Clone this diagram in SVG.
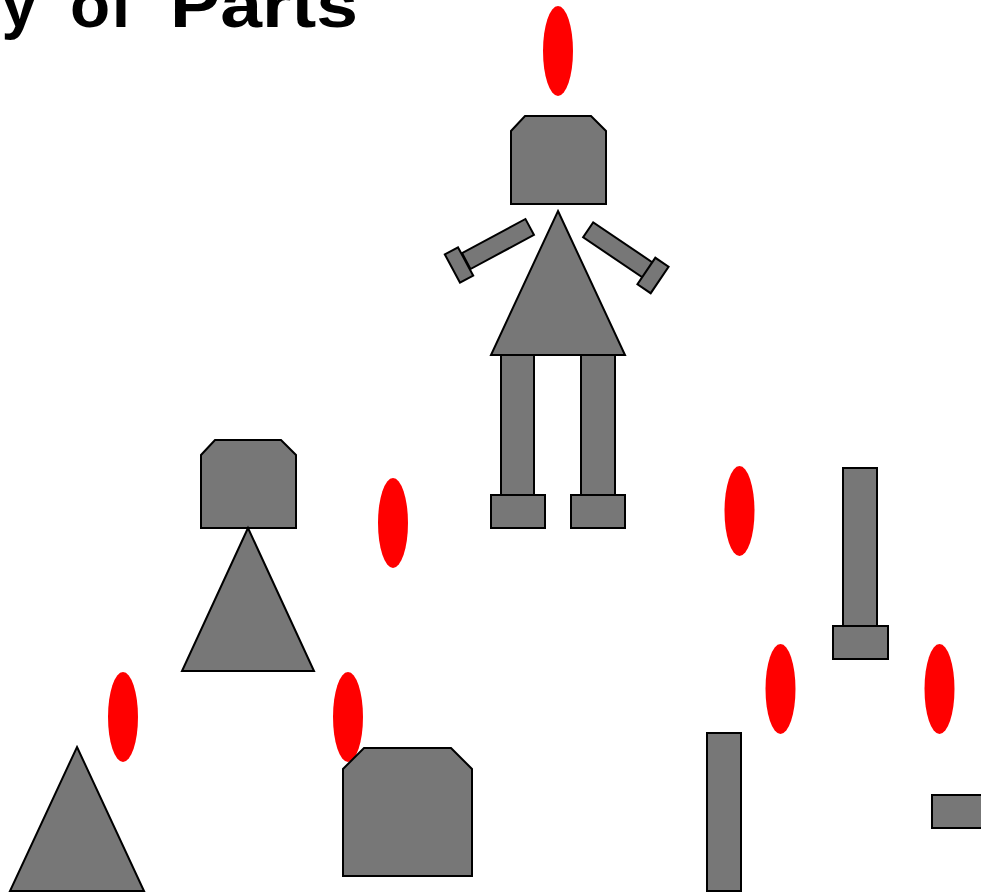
<svg xmlns="http://www.w3.org/2000/svg" width="981" height="893" viewBox="0 0 981 893">
  <style>
    .part { fill: #777777; stroke: #000000; stroke-width: 2; stroke-linejoin: miter; }
    .marker { fill: #ff0000; stroke: none; }
    .title { font-family: "Liberation Sans", Arial, sans-serif; font-weight: bold; font-size: 64px; fill: #000000; }
  </style>

  <!-- heading, partly outside the top-left edge -->
  <text class="title" y="27"><tspan x="37" text-anchor="end">Assembly</tspan><tspan x="70" textLength="62" lengthAdjust="spacingAndGlyphs">of</tspan><tspan x="170" textLength="188" lengthAdjust="spacingAndGlyphs">Parts</tspan></text>

  <!-- red drop-point markers -->
  <g id="markers">
    <ellipse class="marker" cx="558" cy="51" rx="15" ry="45"/>
    <ellipse class="marker" cx="393" cy="523" rx="15" ry="45"/>
    <ellipse class="marker" cx="739.5" cy="511" rx="15" ry="45"/>
    <ellipse class="marker" cx="780.5" cy="689" rx="15" ry="45"/>
    <ellipse class="marker" cx="939.5" cy="689" rx="15" ry="45"/>
    <ellipse class="marker" cx="123" cy="717" rx="15" ry="45"/>
    <ellipse class="marker" cx="348" cy="717" rx="15" ry="45"/>
  </g>

  <!-- fully assembled figure -->
  <g id="robot-full">
    <polygon class="part" points="525,116 591,116 606,131 606,204 511,204 511,131"/>
    <polygon class="part" points="558,211 625,355 491,355"/>
    <g transform="translate(498,244) rotate(-28.3)">
      <rect class="part" x="-36" y="-9" width="72" height="18"/>
    </g>
    <g transform="translate(459,265) rotate(-28.3)">
      <rect class="part" x="-7.5" y="-16" width="15" height="32"/>
    </g>
    <g transform="translate(618,250) rotate(34)">
      <rect class="part" x="-36" y="-9" width="72" height="18"/>
    </g>
    <g transform="translate(653,275.5) rotate(34)">
      <rect class="part" x="-8" y="-16" width="16" height="32"/>
    </g>
    <rect class="part" x="501" y="355" width="33" height="140"/>
    <rect class="part" x="581" y="355" width="34" height="140"/>
    <rect class="part" x="491" y="495" width="54" height="33"/>
    <rect class="part" x="571" y="495" width="54" height="33"/>
  </g>

  <!-- head and torso pair -->
  <g id="head-torso">
    <polygon class="part" points="215,440 281,440 296,455 296,528 201,528 201,455"/>
    <polygon class="part" points="248,528 314,671 182,671"/>
  </g>

  <!-- leg with foot -->
  <g id="leg-foot">
    <rect class="part" x="843" y="468" width="34" height="158"/>
    <rect class="part" x="833" y="626" width="55" height="33"/>
  </g>

  <!-- loose torso -->
  <g id="torso-loose">
    <polygon class="part" points="77,747 144,891 10,891"/>
  </g>

  <!-- loose head -->
  <g id="head-loose">
    <polygon class="part" points="364,748 451,748 472,769 472,876 343,876 343,769"/>
  </g>

  <!-- loose leg -->
  <g id="leg-loose">
    <rect class="part" x="707" y="733" width="34" height="158"/>
  </g>

  <!-- loose foot -->
  <g id="foot-loose">
    <rect class="part" x="932" y="795" width="55" height="33"/>
  </g>
</svg>
